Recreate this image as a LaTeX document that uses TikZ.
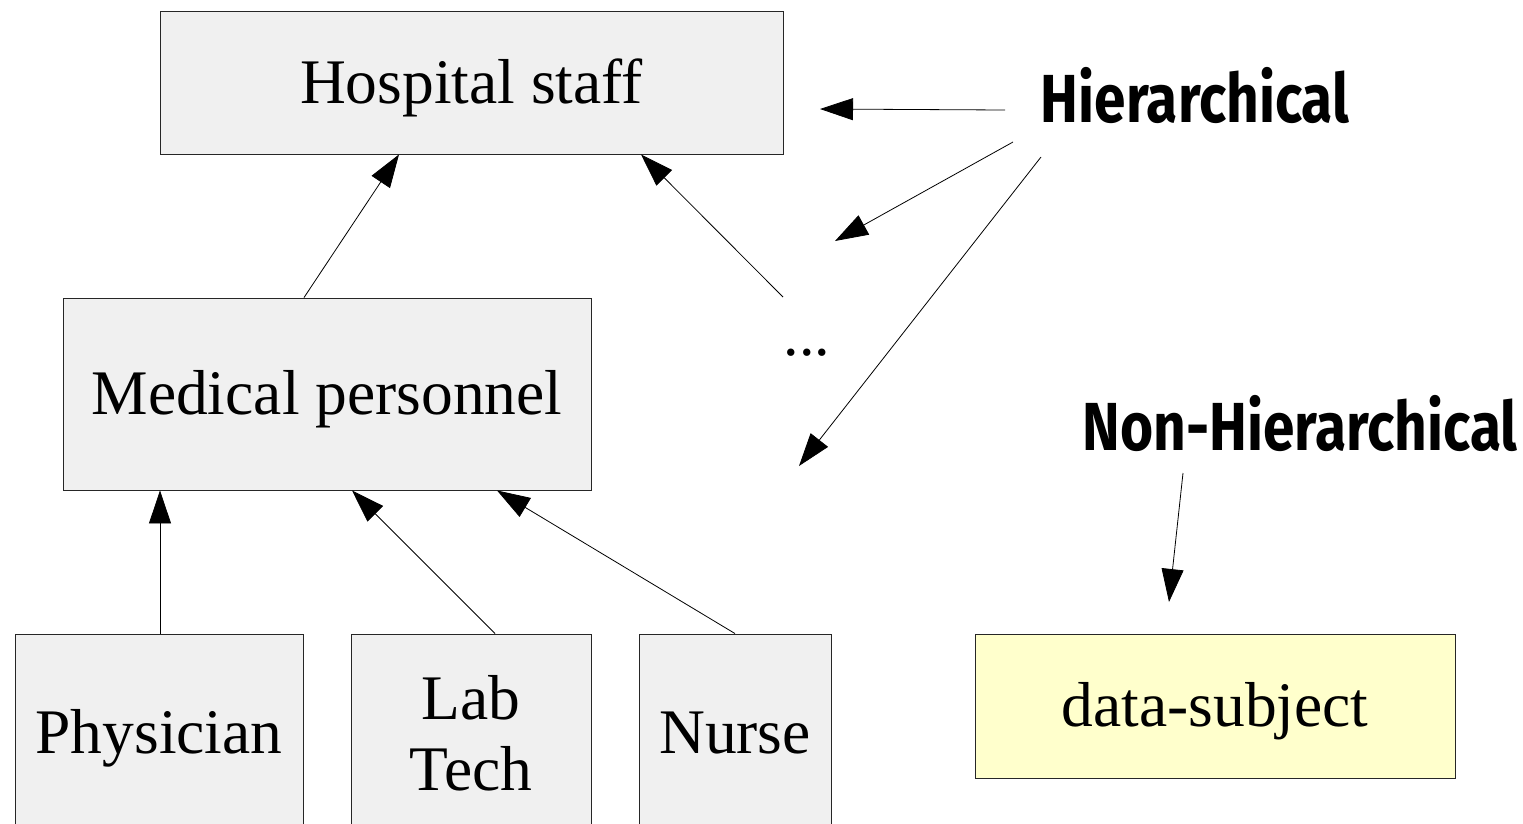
\documentclass[tikz,border=0pt]{standalone}
\usepackage{fontspec}
\usetikzlibrary{arrows.meta}
\newfontfamily\lserif{Liberation Serif}
\newfontfamily\fira{Fira Sans}[FakeStretch=0.835]
\definecolor{boxgray}{HTML}{F0F0F0}
\definecolor{boxyellow}{HTML}{FFFFCC}
\begin{document}
\begin{tikzpicture}[x=1pt,y=-1pt,
  basebox/.style={draw=black!85, line width=0.9pt, fill=boxgray, rectangle, inner sep=0pt,
    font=\lserif\fontsize{63.5}{71}\selectfont},
  box/.style={basebox, text height=45pt, text depth=4pt},
  label/.style={font=\fira\bfseries\fontsize{68}{74}\selectfont, inner sep=0pt, anchor=base},
  arr/.style={-{Triangle[length=33pt,width=22pt]}, line width=0.8pt}]
\useasboundingbox (0,0) rectangle (1523,823);
\clip (0,0) rectangle (1523,823);
\fill[white] (0,0) rectangle (1523,823);

\node[box, minimum width=623pt, minimum height=143pt] (hosp) at (471.5,82.5) {Hospital staff};
\node[box, minimum width=528pt, minimum height=192pt] (med) at (327,394) {Medical personnel};
\node[box, minimum width=288pt, minimum height=198pt] (phys) at (159,733) {Physician};
\node[basebox, align=center, minimum width=240pt, minimum height=198pt] (lab) at (471,733) {Lab\\Tech};
\node[box, minimum width=192pt, minimum height=198pt] (nurse) at (735,733) {Nurse};
\node[box, fill=boxyellow, minimum width=480pt, minimum height=144pt] (subj) at (1215,706) {data-subject};

\node[font=\lserif\fontsize{62}{71}\selectfont, inner sep=0pt, anchor=base] (dots) at (807,355) {...};
\node[label] (hier) at (1195,122) {Hierarchical};
\node[label] (nonh) at (1300,450) {Non-Hierarchical};

\coordinate (h1s) at (1005,110);
\coordinate (h1e) at (820,109);
\coordinate (h2s) at (1013,142);
\coordinate (h2e) at (835,241);
\coordinate (h3s) at (1041,157);
\coordinate (h3e) at (799,466);
\coordinate (ds) at (783,297);
\coordinate (ns) at (1183,473);
\coordinate (ne) at (1169,602);

\draw[arr] (h1s) -- (h1e);
\draw[arr] (h2s) -- (h2e);
\draw[arr] (h3s) -- (h3e);
\draw[arr] (ds) -- ([xshift=169.5]hosp.south);
\draw[arr] ([xshift=-23]med.north) -- ([xshift=-72.5]hosp.south);
\draw[arr] ([xshift=1]phys.north) -- ([xshift=-167]med.south);
\draw[arr] ([xshift=24]lab.north) -- ([xshift=25]med.south);
\draw[arr] (nurse.north) -- ([xshift=170]med.south);
\draw[arr] (ns) -- (ne);
\end{tikzpicture}
\end{document}
